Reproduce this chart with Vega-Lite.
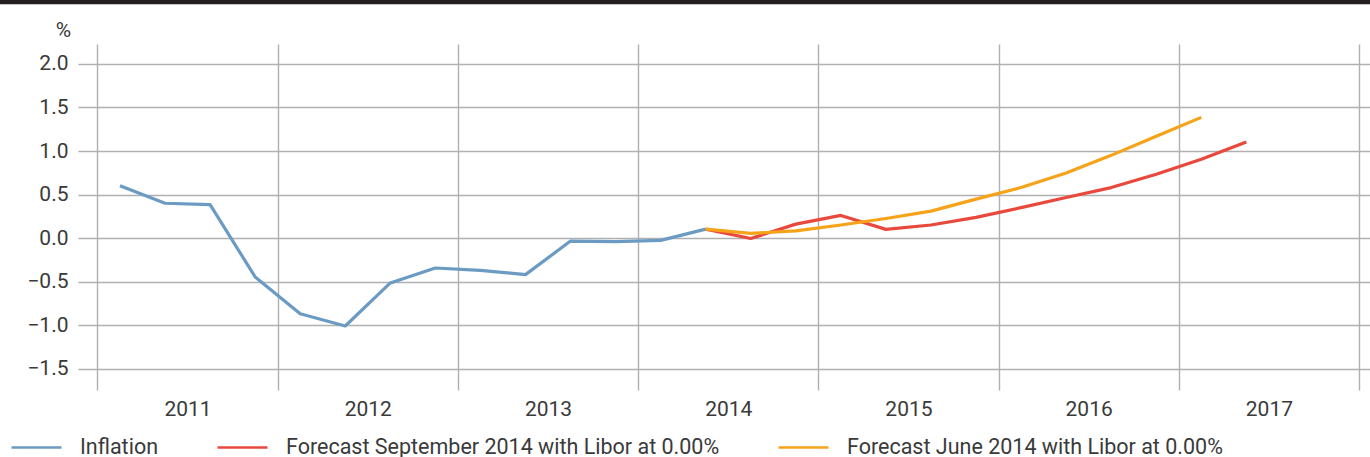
{
  "$schema": "https://vega.github.io/schema/vega-lite/v6.json",
  "width": 1292,
  "height": 346,
  "autosize": "none",
  "padding": {"left": 78, "top": 44, "right": 0, "bottom": 67},
  "background": "white",
  "config": {
    "view": {"stroke": null},
    "font": "Roboto",
    "axis": {"labelFont": "Roboto", "labelFontWeight": 400, "labelColor": "#3a3a3a", "titleFont": "Roboto", "titleColor": "#3a3a3a", "gridColor": "#b0b0b0", "gridWidth": 1.4, "gridOpacity": 1},
    "legend": {"labelFont": "Roboto", "labelFontWeight": 400, "labelColor": "#3a3a3a"}
  },
  "resolve": {"axis": {"x": "independent"}},
  "layer": [
    {
      "data": {"values": [{"k": 1}]},
      "mark": {"type": "rule", "color": "#231f20", "strokeWidth": 4.5, "clip": false},
      "encoding": {
        "x": {"datum": 2010.44, "type": "quantitative", "scale": {"domain": [2010.892, 2018.061], "nice": false, "zero": false},
          "axis": {"orient": "bottom", "values": [2011, 2012, 2013, 2014, 2015, 2016, 2017, 2018], "grid": true, "labels": false, "ticks": false, "domain": false, "title": null}},
        "x2": {"datum": 2018.1},
        "y": {"datum": 2.71, "type": "quantitative", "scale": {"domain": [-1.745, 2.229], "nice": false, "zero": false}}
      }
    },
    {
      "data": {"values": [
        {"series": "Inflation", "t": 2011.125, "v": 0.6},
        {"series": "Inflation", "t": 2011.375, "v": 0.4},
        {"series": "Inflation", "t": 2011.625, "v": 0.385},
        {"series": "Inflation", "t": 2011.875, "v": -0.447},
        {"series": "Inflation", "t": 2012.125, "v": -0.87},
        {"series": "Inflation", "t": 2012.375, "v": -1.01},
        {"series": "Inflation", "t": 2012.625, "v": -0.515},
        {"series": "Inflation", "t": 2012.875, "v": -0.344},
        {"series": "Inflation", "t": 2013.125, "v": -0.37},
        {"series": "Inflation", "t": 2013.375, "v": -0.42},
        {"series": "Inflation", "t": 2013.625, "v": -0.034},
        {"series": "Inflation", "t": 2013.875, "v": -0.04},
        {"series": "Inflation", "t": 2014.125, "v": -0.027},
        {"series": "Inflation", "t": 2014.375, "v": 0.103},
        {"series": "Forecast September 2014 with Libor at 0.00%", "t": 2014.375, "v": 0.103},
        {"series": "Forecast September 2014 with Libor at 0.00%", "t": 2014.625, "v": -0.005},
        {"series": "Forecast September 2014 with Libor at 0.00%", "t": 2014.875, "v": 0.16},
        {"series": "Forecast September 2014 with Libor at 0.00%", "t": 2015.125, "v": 0.26},
        {"series": "Forecast September 2014 with Libor at 0.00%", "t": 2015.375, "v": 0.1},
        {"series": "Forecast September 2014 with Libor at 0.00%", "t": 2015.625, "v": 0.15},
        {"series": "Forecast September 2014 with Libor at 0.00%", "t": 2015.875, "v": 0.237},
        {"series": "Forecast September 2014 with Libor at 0.00%", "t": 2016.125, "v": 0.35},
        {"series": "Forecast September 2014 with Libor at 0.00%", "t": 2016.375, "v": 0.466},
        {"series": "Forecast September 2014 with Libor at 0.00%", "t": 2016.625, "v": 0.58},
        {"series": "Forecast September 2014 with Libor at 0.00%", "t": 2016.875, "v": 0.733},
        {"series": "Forecast September 2014 with Libor at 0.00%", "t": 2017.125, "v": 0.905},
        {"series": "Forecast September 2014 with Libor at 0.00%", "t": 2017.375, "v": 1.103},
        {"series": "Forecast June 2014 with Libor at 0.00%", "t": 2014.375, "v": 0.103},
        {"series": "Forecast June 2014 with Libor at 0.00%", "t": 2014.625, "v": 0.054},
        {"series": "Forecast June 2014 with Libor at 0.00%", "t": 2014.875, "v": 0.083},
        {"series": "Forecast June 2014 with Libor at 0.00%", "t": 2015.125, "v": 0.15},
        {"series": "Forecast June 2014 with Libor at 0.00%", "t": 2015.375, "v": 0.225},
        {"series": "Forecast June 2014 with Libor at 0.00%", "t": 2015.625, "v": 0.31},
        {"series": "Forecast June 2014 with Libor at 0.00%", "t": 2015.875, "v": 0.447},
        {"series": "Forecast June 2014 with Libor at 0.00%", "t": 2016.125, "v": 0.58},
        {"series": "Forecast June 2014 with Libor at 0.00%", "t": 2016.375, "v": 0.748},
        {"series": "Forecast June 2014 with Libor at 0.00%", "t": 2016.625, "v": 0.95},
        {"series": "Forecast June 2014 with Libor at 0.00%", "t": 2016.875, "v": 1.17},
        {"series": "Forecast June 2014 with Libor at 0.00%", "t": 2017.125, "v": 1.386}
      ]},
      "mark": {"type": "line", "strokeWidth": 3.2, "strokeJoin": "round"},
      "encoding": {
        "x": {"field": "t", "type": "quantitative", "scale": {"domain": [2010.892, 2018.061], "nice": false, "zero": false},
          "axis": {"orient": "bottom", "values": [2011.5, 2012.5, 2013.5, 2014.5, 2015.5, 2016.5, 2017.5], "labelExpr": "'' + floor(datum.value)", "grid": false, "ticks": false, "domain": false, "labelFontSize": 21, "labelPadding": 8, "labelBaseline": "top", "title": null}},
        "y": {"field": "v", "type": "quantitative", "scale": {"domain": [-1.745, 2.229], "nice": false, "zero": false},
          "axis": {"values": [-1.5, -1, -0.5, 0, 0.5, 1, 1.5, 2], "labelExpr": "replace(format(datum.value, '.1f'), '-', '–')", "grid": true, "ticks": false, "domain": false, "labelFontSize": 21, "labelPadding": 10, "title": "%", "titleAngle": 0, "titleX": -15, "titleY": -8, "titleAlign": "center", "titleBaseline": "alphabetic", "titleFontSize": 21, "titleFontWeight": 400}},
        "color": {"field": "series", "type": "nominal",
          "scale": {"domain": ["Inflation", "Forecast September 2014 with Libor at 0.00%", "Forecast June 2014 with Libor at 0.00%"], "range": ["#6b9bc3", "#e9483c", "#f6a31a"]},
          "legend": {"orient": "none", "legendX": -68, "legendY": 377, "direction": "horizontal", "title": null, "symbolType": "stroke", "symbolSize": 2500, "symbolStrokeWidth": 2.6, "labelFontSize": 21.5, "labelOffset": 17, "columnPadding": 53, "labelLimit": 600}}
      }
    }
  ]
}
